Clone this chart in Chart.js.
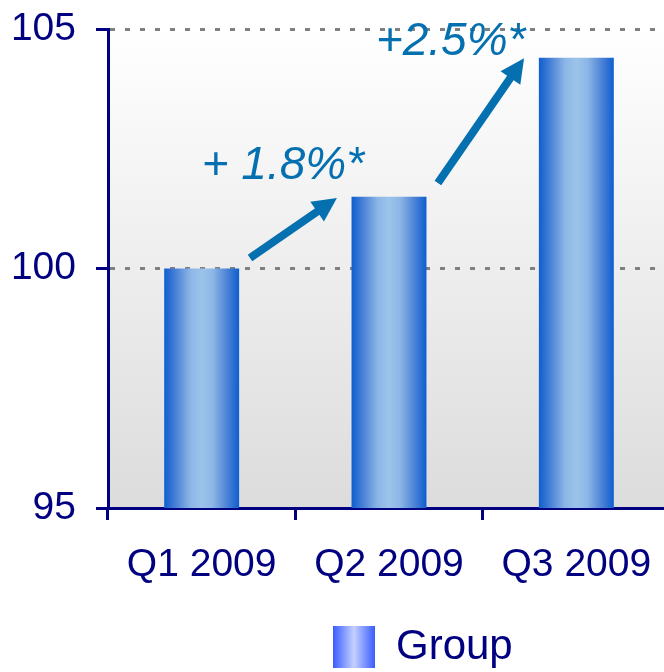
<!DOCTYPE html>
<html>
<head>
<meta charset="utf-8">
<script src="https://cdn.jsdelivr.net/npm/chart.js@4/dist/chart.umd.min.js"></script>
<style>
  html, body { margin: 0; padding: 0; background: #ffffff; overflow: hidden; }
  #wrap { width: 670px; height: 672px; }
</style>
</head>
<body>
<div id="wrap"><canvas id="c" width="670" height="672"></canvas></div>
<script>
// ---- data ----
const categories = ['Q1 2009', 'Q2 2009', 'Q3 2009'];
const groupValues = [100, 101.5, 104.4];
const seriesName = 'Group';
const yTickValues = [95, 100, 105];
const growthLabels = ['+ 1.8%*', '+2.5%*'];
// annotation anchors in data space (category index, value)
const growthTextX = [0.0, 0.93];
const growthTextY = [101.87, 104.46];
const arrowFromX = [0.258, 1.261];
const arrowFromY = [100.22, 101.785];
const arrowToX = [0.722, 1.721];
const arrowToY = [101.47, 104.39];

const NAVY = '#000080';
const FONT = '"Liberation Sans", Arial, sans-serif';
const ANNO = '#0570b0';

function barGradient(chart, x0, x1) {
  const g = chart.ctx.createLinearGradient(x0, 0, x1, 0);
  g.addColorStop(0, '#0e5ed0');
  g.addColorStop(0.15, '#4880d6');
  g.addColorStop(0.35, '#8cb6e6');
  g.addColorStop(0.5, '#9cc4ea');
  g.addColorStop(0.65, '#8cb6e6');
  g.addColorStop(0.85, '#4880d6');
  g.addColorStop(1, '#0e5ed0');
  return g;
}

const bgPlugin = {
  id: 'bg',
  beforeDraw(chart) {
    const { ctx, chartArea: a } = chart;
    const g = ctx.createLinearGradient(0, a.top, 0, a.bottom);
    g.addColorStop(0, '#ffffff');
    g.addColorStop(1, '#dcdcdc');
    ctx.save();
    ctx.fillStyle = g;
    ctx.fillRect(a.left, a.top, a.right - a.left, a.bottom - a.top);
    ctx.restore();
    // legend placement + gradient swatch
    const lg = chart.legend;
    if (lg && lg.legendItems && lg.legendItems.length) {
      const pad = lg.options.labels.padding;
      const boxX = 333;
      lg.left = boxX - pad;
      lg.top = chart.scales.x.bottom + 6;
      const bw = lg.options.labels.boxWidth;
      const g2 = ctx.createLinearGradient(boxX, 0, boxX + bw, 0);
      g2.addColorStop(0, '#3a5cff');
      g2.addColorStop(0.5, '#c4d0ff');
      g2.addColorStop(1, '#3a5cff');
      lg.legendItems[0].fillStyle = g2;
    }
  }
};

const annoPlugin = {
  id: 'anno',
  afterDatasetsDraw(chart) {
    const { ctx, scales: { x, y } } = chart;
    const step = x.getPixelForValue(1) - x.getPixelForValue(0);
    const px = v => x.getPixelForValue(0) + v * step;
    ctx.save();
    ctx.fillStyle = ANNO;
    ctx.strokeStyle = ANNO;
    for (let i = 0; i < arrowFromX.length; i++) {
      const x0 = px(arrowFromX[i]), y0 = y.getPixelForValue(arrowFromY[i]);
      const x1 = px(arrowToX[i]), y1 = y.getPixelForValue(arrowToY[i]);
      const ang = Math.atan2(y1 - y0, x1 - x0);
      const headLen = 24, headHalf = 12;
      const bx = x1 - headLen * Math.cos(ang), by = y1 - headLen * Math.sin(ang);
      ctx.lineWidth = 8;
      ctx.lineCap = 'butt';
      ctx.beginPath();
      ctx.moveTo(x0, y0);
      ctx.lineTo(bx + 2 * Math.cos(ang), by + 2 * Math.sin(ang));
      ctx.stroke();
      ctx.beginPath();
      ctx.moveTo(x1, y1);
      ctx.lineTo(bx + headHalf * Math.sin(ang), by - headHalf * Math.cos(ang));
      ctx.lineTo(bx - headHalf * Math.sin(ang), by + headHalf * Math.cos(ang));
      ctx.closePath();
      ctx.fill();
    }
    ctx.font = 'italic 46px ' + FONT;
    ctx.textAlign = 'left';
    ctx.textBaseline = 'alphabetic';
    for (let i = 0; i < growthLabels.length; i++) {
      ctx.fillText(growthLabels[i], px(growthTextX[i]), y.getPixelForValue(growthTextY[i]));
    }
    ctx.restore();
  }
};

new Chart(document.getElementById('c'), {
  type: 'bar',
  data: {
    labels: categories,
    datasets: [{
      label: seriesName,
      data: groupValues,
      borderWidth: 0,
      categoryPercentage: 1.0,
      barPercentage: 0.4,
      backgroundColor: (ctx) => {
        const chart = ctx.chart;
        const xs = chart.scales && chart.scales.x;
        if (ctx.type !== 'data' || !xs || !chart.chartArea) return '#5b8fdc';
        const cx = xs.getPixelForValue(ctx.dataIndex);
        const w = (xs.getPixelForValue(1) - xs.getPixelForValue(0)) * 0.4;
        return barGradient(chart, cx - w / 2, cx + w / 2);
      }
    }]
  },
  options: {
    responsive: false,
    animation: false,
    devicePixelRatio: 1,
    layout: { padding: { top: 29, left: 0, right: 0, bottom: 0 } },
    plugins: {
      tooltip: { enabled: false },
      legend: {
        display: true,
        position: 'bottom',
        align: 'start',
        labels: {
          boxWidth: 42,
          boxHeight: 42,
          padding: 4,
          color: NAVY,
          font: { family: FONT, size: 42 },
          generateLabels: () => [{
            text: seriesName, fillStyle: '#6c88ff', strokeStyle: 'rgba(0,0,0,0)',
            lineWidth: 0, datasetIndex: 0, hidden: false, fontColor: NAVY
          }]
        }
      }
    },
    scales: {
      x: {
        offset: true,
        grid: {
          display: true, offset: true, drawOnChartArea: false, drawTicks: true,
          tickLength: 12, tickColor: NAVY, tickWidth: 3, color: NAVY, lineWidth: 3
        },
        border: { display: true, color: NAVY, width: 3 },
        ticks: { color: NAVY, font: { family: FONT, size: 39 }, padding: 22, maxRotation: 0 },
        afterFit: (s) => { s.height = 108; s.paddingLeft = 0; s.paddingRight = 0; }
      },
      y: {
        min: 95, max: 105,
        afterBuildTicks: (s) => { s.ticks = yTickValues.map(v => ({ value: v })); },
        grid: {
          display: true, drawOnChartArea: true, drawTicks: true,
          color: (c) => (c.tick && c.tick.value === 95) ? 'rgba(0,0,0,0)' : '#808080',
          lineWidth: 3, borderDash: [5, 10],
          tickLength: 12, tickColor: NAVY, tickWidth: 3, tickBorderDash: []
        },
        border: { display: true, color: NAVY, width: 3, dash: [5, 10] },
        ticks: { color: NAVY, font: { family: FONT, size: 39 }, padding: 20 },
        afterFit: (s) => { s.width = 108; s.paddingTop = 0; s.paddingBottom = 0; }
      }
    }
  },
  plugins: [bgPlugin, annoPlugin]
});
</script>
</body>
</html>
